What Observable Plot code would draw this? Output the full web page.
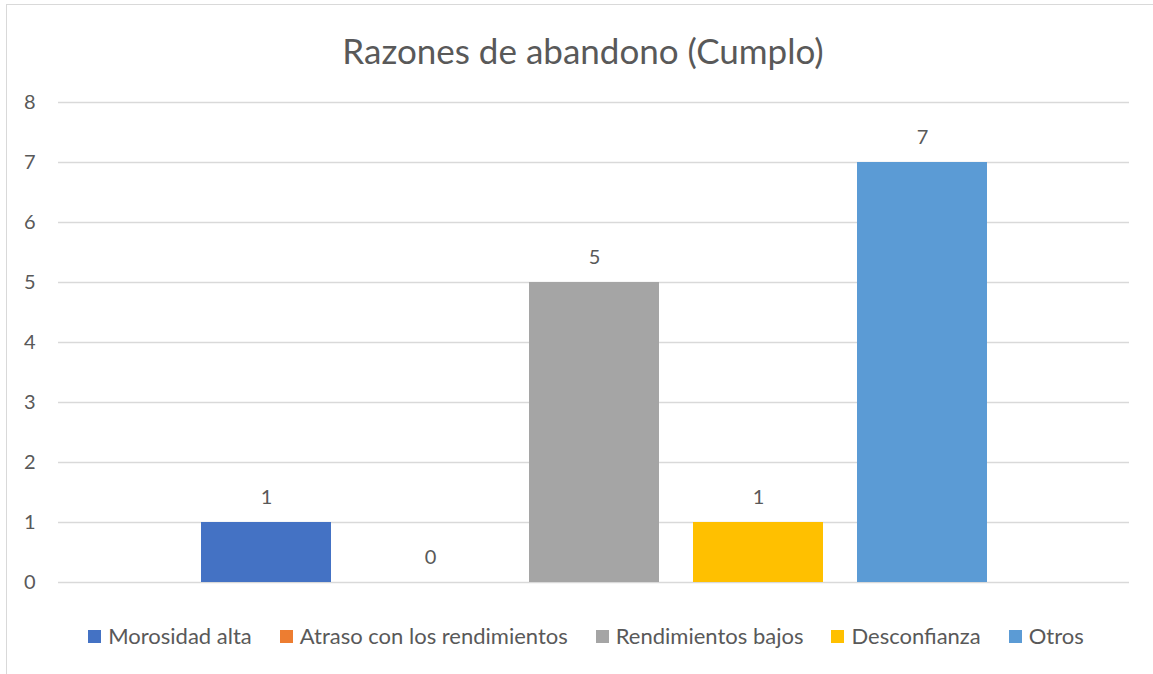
<!DOCTYPE html>
<html>
<head>
<meta charset="utf-8">
<script src="https://cdn.jsdelivr.net/npm/d3@7"></script>
<script src="https://cdn.jsdelivr.net/npm/@observablehq/plot@0.6"></script>
<style>
  html, body { margin: 0; padding: 0; background: #fff; }
  body { width: 1153px; height: 674px; position: relative; overflow: hidden; font-family: Lato, "Open Sans", sans-serif; color: #595959; }
  #frame { position: absolute; left: 6px; top: 4px; width: 1170px; height: 700px; border: 1px solid #d9d9d9; box-sizing: border-box; }
  #title { position: absolute; left: 0; top: 26px; width: 1166px; text-align: center; font-size: 35px; line-height: 48px; color: #595959; }
  #chart { position: absolute; left: 0; top: 90px; }
  #legend { position: absolute; left: 0; top: 621px; width: 1172px; display: flex; justify-content: center; align-items: center; gap: 28px; font-size: 22px; line-height: 30px; color: #595959; }
  .item { display: flex; align-items: center; gap: 7px; }
  .sw { width: 13px; height: 13px; display: inline-block; }
</style>
</head>
<body>
<div id="frame"></div>
<div id="title">Razones de abandono (Cumplo)</div>
<div id="chart"></div>
<div id="legend"></div>
<script>
const series = ["Morosidad alta", "Atraso con los rendimientos", "Rendimientos bajos", "Desconfianza", "Otros"];
const values = [1, 0, 5, 1, 7];
const colors = ["#4472C4", "#ED7D31", "#A5A5A5", "#FFC000", "#5B9BD5"];
const yTicks = [0, 1, 2, 3, 4, 5, 6, 7, 8];

const data = series.map((s, i) => ({series: s, value: values[i]}));

const plot = Plot.plot({
  width: 1153,
  height: 520,
  marginLeft: 58,
  marginRight: 24,
  marginTop: 12,
  marginBottom: 28,
  style: {fontFamily: "Lato, 'Open Sans', sans-serif", fontSize: "20px", color: "#595959", background: "transparent"},
  x: {domain: series, range: [200, 988], paddingInner: 0.21, paddingOuter: 0, axis: null},
  y: {domain: [0, 8], ticks: yTicks, tickSize: 0, tickPadding: 23, label: null},
  color: {domain: series, range: colors},
  marks: [
    Plot.ruleY(yTicks, {stroke: "#d9d9d9", strokeWidth: 1.3}),
    Plot.barY(data, {x: "series", y: "value", fill: "series"}),
    Plot.text(data, {x: "series", y: "value", text: d => String(d.value), dy: -25, fill: "#595959", fontSize: 20})
  ]
});
document.getElementById("chart").appendChild(plot);

const legend = document.getElementById("legend");
series.forEach((s, i) => {
  const it = document.createElement("div");
  it.className = "item";
  const sw = document.createElement("span");
  sw.className = "sw";
  sw.style.background = colors[i];
  const t = document.createElement("span");
  t.textContent = s;
  it.appendChild(sw); it.appendChild(t);
  legend.appendChild(it);
});
</script>
</body>
</html>
